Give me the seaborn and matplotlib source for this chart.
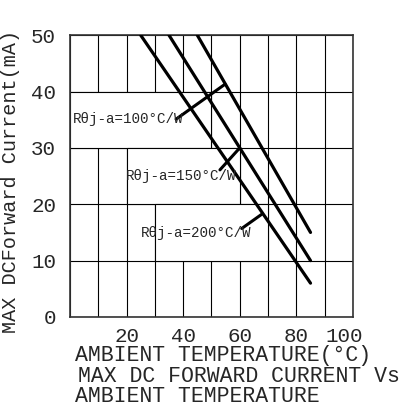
import matplotlib
matplotlib.use("Agg")
import matplotlib.pyplot as plt
import matplotlib.transforms as mtrans
import numpy as np
import pandas as pd
import seaborn as sns
from matplotlib.patches import Rectangle

# ── Data ──────────────────────────────────────────────────────────────────────
RESISTANCES = ["100", "150", "200"]          # Rθj-a in °C/W
TEMP_START  = [45, 35, 25]                   # ambient temp where curve leaves 50 mA
TEMP_END    = [85, 85, 85]
CURR_START  = [50, 50, 50]
CURR_END    = [15, 10, 6]

# label text anchor + leader line (from label end to curve)
LABEL_X     = [1.0, 19.8, 25.1]
LABEL_Y     = [35.1, 25.0, 14.9]
LEADER_X0   = [37.5, 53.0, 60.7]
LEADER_Y0   = [35.1, 26.1, 15.7]
LEADER_X1   = [54.8, 60.0, 67.7]
LEADER_Y1   = [41.3, 30.0, 18.2]

# grid cells blanked behind the labels (x0, x1, y0, y1)
BOX_X0 = [0, 20, 30]
BOX_X1 = [50, 60, 70]
BOX_Y0 = [30, 20, 10]
BOX_Y1 = [40, 30, 20]

X_TICKS = [20, 40, 60, 80, 100]
Y_TICKS = [0, 10, 20, 30, 40, 50]

rows = []
for r, x0, x1, y0, y1 in zip(RESISTANCES, TEMP_START, TEMP_END, CURR_START, CURR_END):
    rows.append({"R": r, "T": x0, "I": y0})
    rows.append({"R": r, "T": x1, "I": y1})
df = pd.DataFrame(rows)

# ── Style ─────────────────────────────────────────────────────────────────────
sns.set_style("white")
MONO = ["Liberation Mono", "DejaVu Sans"]
plt.rcParams["font.family"] = MONO

fig = plt.figure(figsize=(4.09, 4.09), dpi=100)
ax = fig.add_axes([0.171, 0.225, 0.692, 0.689])

sns.lineplot(data=df, x="T", y="I", units="R", estimator=None,
             color="black", lw=2.3, ax=ax, zorder=3)

ax.set_xlim(0, 100)
ax.set_ylim(0, 50)
ax.set_xticks(X_TICKS)
ax.set_xticks(np.arange(0, 101, 10), minor=True)
ax.set_yticks(Y_TICKS)
ax.grid(True, which="both", color="black", lw=0.8)
ax.tick_params(which="both", length=0)
ax.tick_params(axis="x", pad=7, labelsize=15)
ax.tick_params(axis="y", pad=10, labelsize=15)
for s in ax.spines.values():
    s.set_color("#333333")
    s.set_linewidth(1.2)

# the "100" sits a little left of its grid line in the reference
last = ax.get_xticklabels()[-1]
last.set_transform(last.get_transform() +
                   mtrans.ScaledTranslation(-9 / 100, 0, fig.dpi_scale_trans))

for x0, x1, y0, y1 in zip(BOX_X0, BOX_X1, BOX_Y0, BOX_Y1):
    ax.add_patch(Rectangle((x0, y0), x1 - x0, y1 - y0, facecolor="white",
                           edgecolor="black", lw=0.8, zorder=1))

for r, lx, ly, x0, y0, x1, y1 in zip(RESISTANCES, LABEL_X, LABEL_Y,
                                     LEADER_X0, LEADER_Y0, LEADER_X1, LEADER_Y1):
    ax.text(lx, ly, f"R\u03b8j-a={r}\u00b0C/W", fontsize=10.3, ha="left",
            va="center", zorder=4)
    ax.plot([x0, x1], [y0, y1], color="black", lw=2.2, zorder=3)

ax.set_xlabel("")
ax.set_ylabel("MAX DCForward Current(mA)", fontsize=14.5, labelpad=4)
ax.yaxis.set_label_coords(-0.175, 0.48)

for x, y, s in [(75, 356, "AMBIENT TEMPERATURE(\u00b0C)"),
                (78, 376, "MAX DC FORWARD CURRENT Vs"),
                (75, 396, "AMBIENT TEMPERATURE")]:
    fig.text(x / 409, 1 - y / 409, s, fontsize=15.5, ha="left", va="center")

fig.savefig("out.png", dpi=100)
